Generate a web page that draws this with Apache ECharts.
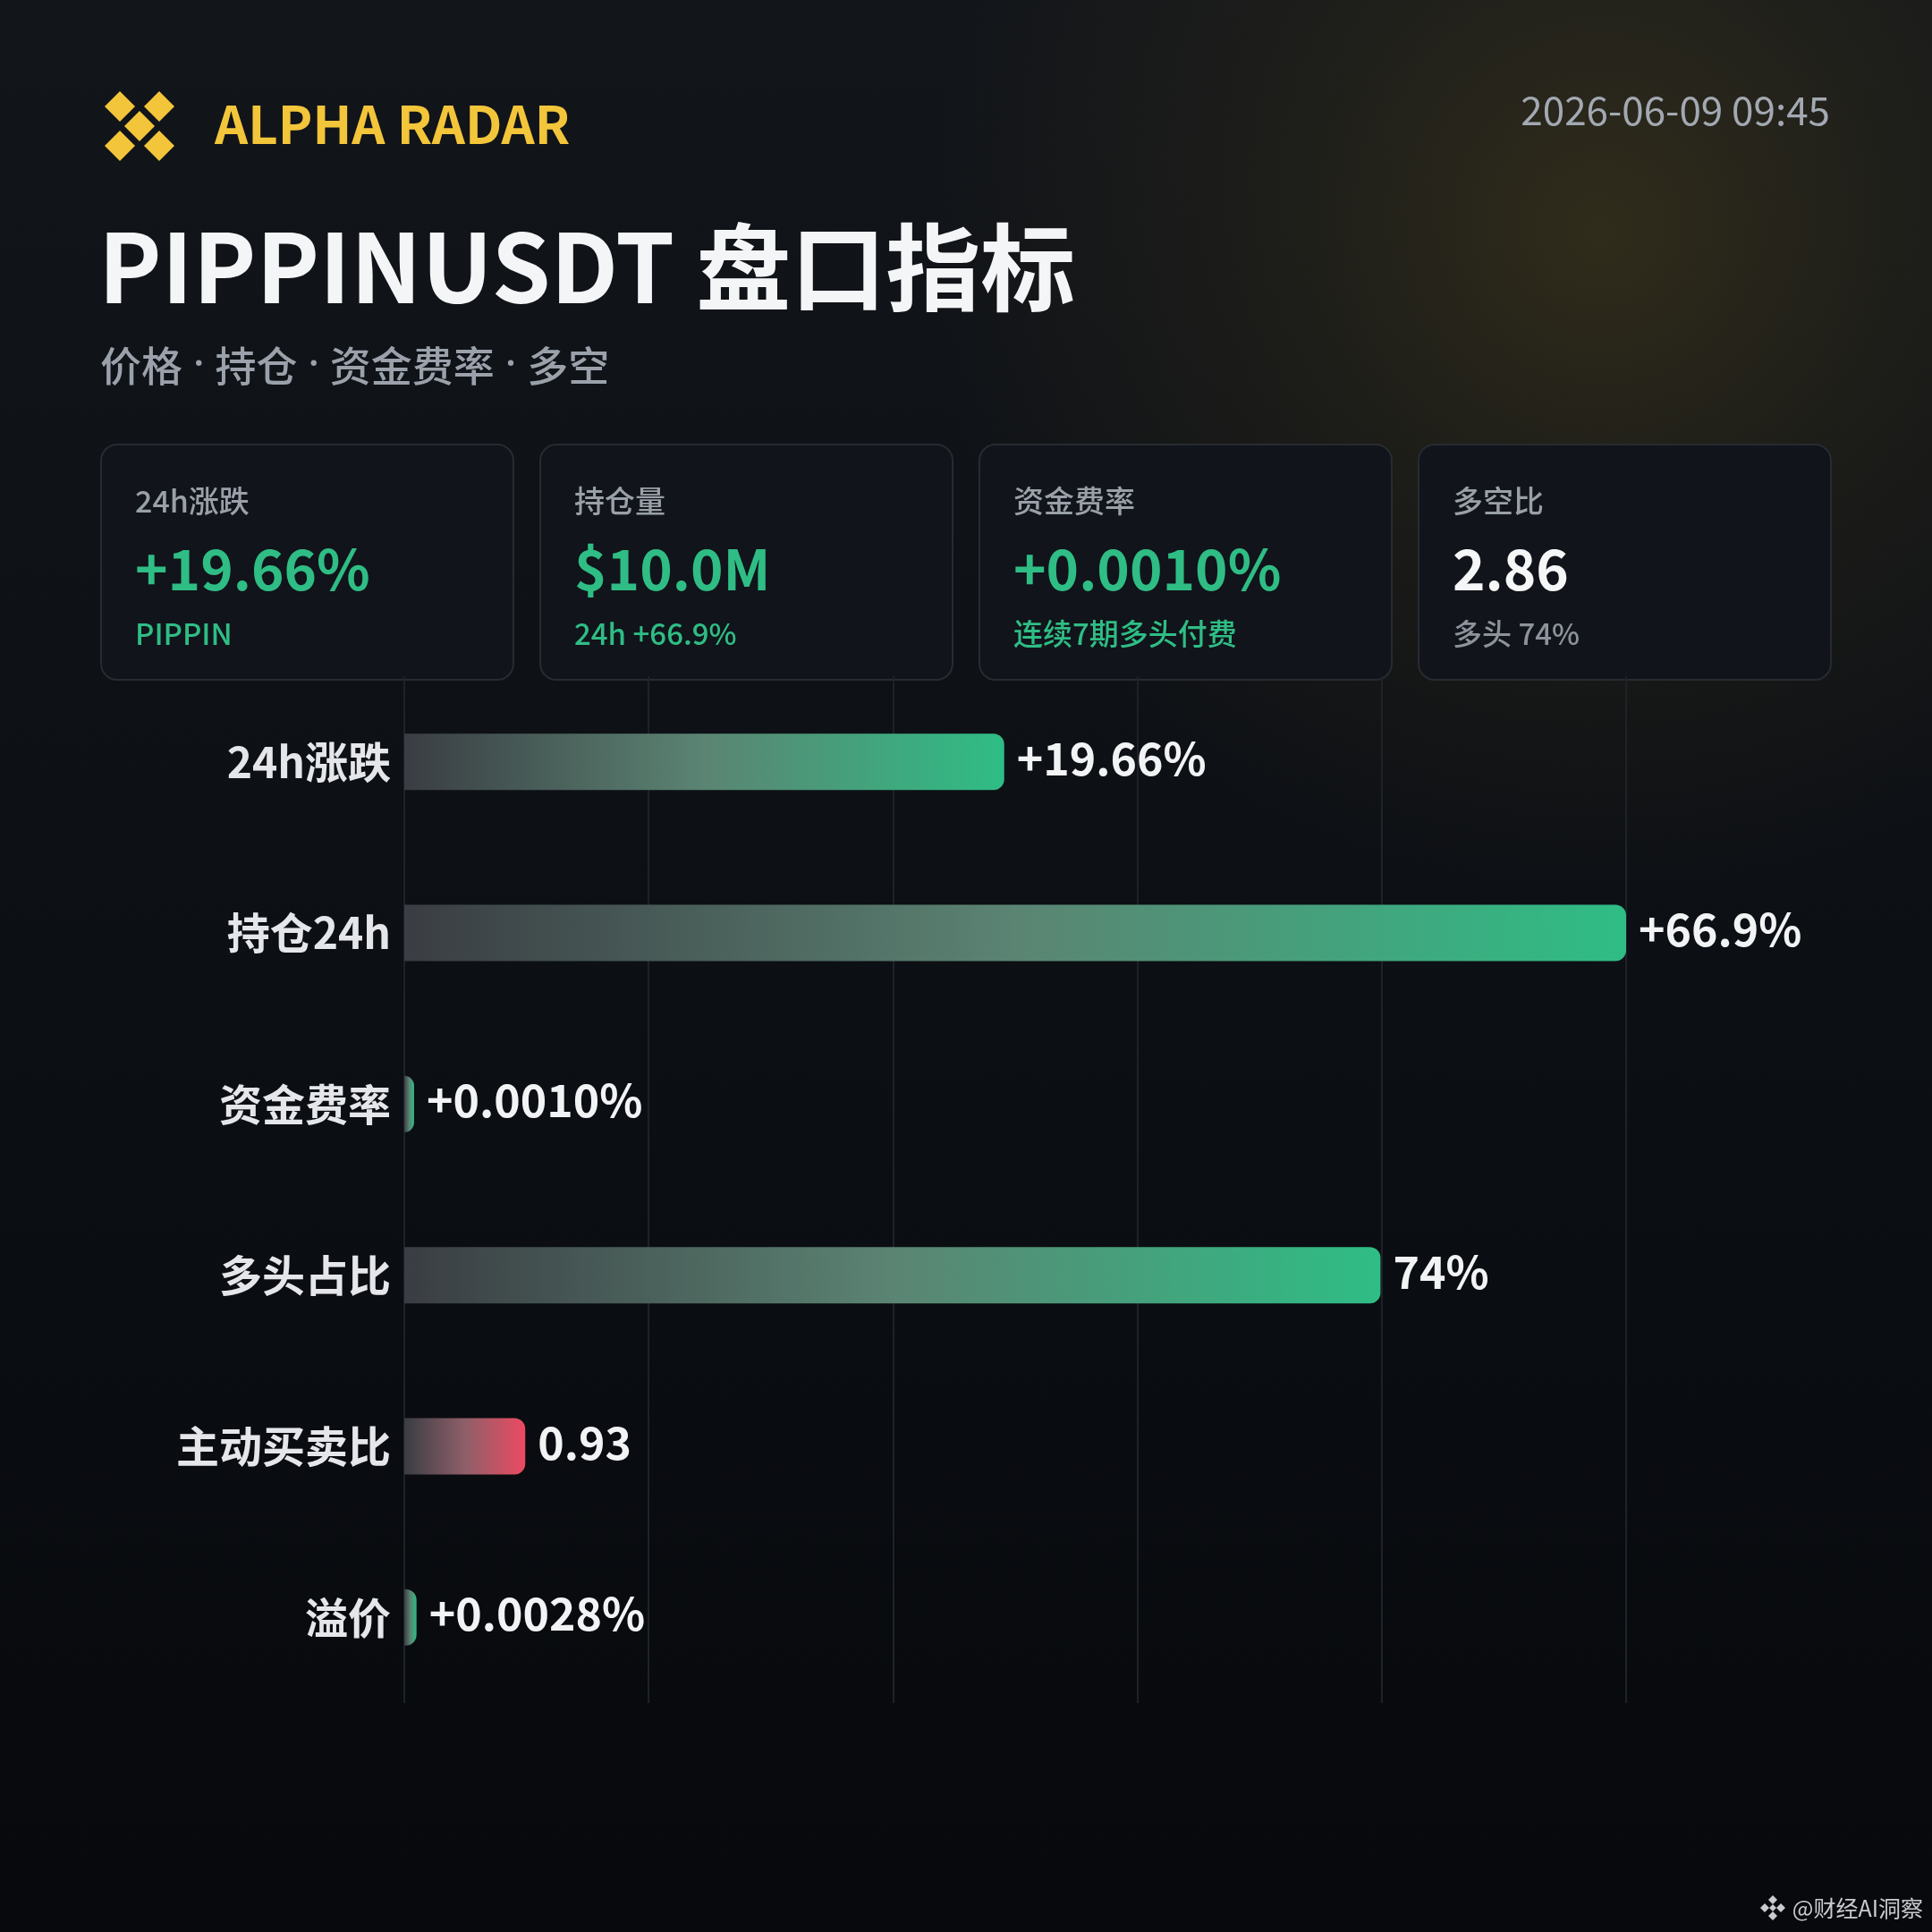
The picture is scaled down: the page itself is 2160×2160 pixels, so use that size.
<!DOCTYPE html>
<html>
<head>
<meta charset="utf-8">
<title>PIPPINUSDT 盘口指标</title>
<script src="https://cdn.jsdelivr.net/npm/echarts@6/dist/echarts.min.js"></script>
<style>
  html, body { margin: 0; padding: 0; background: #0b0e13; }
  #chart { width: 2160px; height: 2160px; }
</style>
</head>
<body>
<div id="chart"></div>
<script>
// 条形图数据（长度按图上读出的比例，标签为原始数值）
var categories = ['24h涨跌', '持仓24h', '资金费率', '多头占比', '主动买卖比', '溢价']
var barValues = [49.1, 100, 0.8, 79.9, 9.9, 1.0]
var valueLabels = ['+19.66%', '+66.9%', '+0.0010%', '74%', '0.93', '+0.0028%']
var barTones = ['up', 'up', 'up', 'up', 'down', 'up']
var axisTicks = [0, 20, 40, 60, 80, 100]

// 顶部卡片
var cardTitles = ['24h涨跌', '持仓量', '资金费率', '多空比']
var cardValues = ['+19.66%', '$10.0M', '+0.0010%', '2.86']
var cardSubs = ['PIPPIN', '24h +66.9%', '连续7期多头付费', '多头 74%']
var cardTones = ['up', 'up', 'up', 'plain']

var FONT = '"Noto Sans CJK SC", "Noto Sans", sans-serif'
var GREEN = '#2fbd85'
var RED = '#ec4a61'
var YELLOW = '#f3c53a'

var toneStops = {
  up: ['#3a3d43', '#5b8473', GREEN],
  down: ['#3a3d43', '#8e5f69', RED]
}

var chart = echarts.init(document.getElementById('chart'))

var graphics = []

// 背景右上角的暖色光晕
graphics.push({
  type: 'circle',
  z: -10,
  silent: true,
  shape: { cx: 1790, cy: 260, r: 760 },
  style: {
    fill: {
      type: 'radial', x: 0.5, y: 0.5, r: 0.5,
      colorStops: [
        { offset: 0, color: 'rgba(205,165,40,0.17)' },
        { offset: 0.45, color: 'rgba(205,165,40,0.07)' },
        { offset: 1, color: 'rgba(205,165,40,0)' }
      ]
    }
  }
})

// logo：五个菱形
var diamond = function(cx, cy, h, color) {
  return {
    type: 'polygon',
    shape: { points: [[cx, cy - h], [cx + h, cy], [cx, cy + h], [cx - h, cy]] },
    style: { fill: color }
  }
}
;[[134, 119], [178, 119], [156, 141], [134, 163], [178, 163]].forEach(function(p) {
  graphics.push(diamond(p[0], p[1], 17, YELLOW))
})

graphics.push({
  type: 'text', left: 240, top: 110,
  style: { text: 'ALPHA RADAR', fill: YELLOW, font: '600 58px ' + FONT }
})
graphics.push({
  type: 'text', right: 114, top: 101,
  style: { text: '2026-06-09 09:45', fill: '#a3a9b2', font: '400 44px ' + FONT }
})
graphics.push({
  type: 'text', left: 110, top: 246,
  style: { text: 'PIPPINUSDT 盘口指标', fill: '#f4f5f7', font: '700 106px ' + FONT }
})
graphics.push({
  type: 'text', left: 112, top: 386,
  style: {
    text: '价格{d| · }持仓{d| · }资金费率{d| · }多空',
    fill: '#9ba1aa',
    font: '500 46px ' + FONT,
    rich: {
      d: { fill: '#9ba1aa', fontSize: 46, fontFamily: '"Noto Sans", sans-serif', fontWeight: 500 }
    }
  }
})

// 卡片
for (var i = 0; i < cardTitles.length; i++) {
  var x = 113 + i * 491
  var tone = cardTones[i]
  graphics.push({
    type: 'rect',
    shape: { x: x, y: 497, width: 461, height: 263, r: 18 },
    style: { fill: '#11141a', stroke: '#272b32', lineWidth: 2 }
  })
  graphics.push({
    type: 'text', x: x + 38, y: 560,
    style: { text: cardTitles[i], fill: '#9aa0a8', font: '500 34px ' + FONT, verticalAlign: 'middle' }
  })
  graphics.push({
    type: 'text', x: x + 38, y: 636,
    style: {
      text: cardValues[i],
      fill: tone === 'up' ? GREEN : '#f5f6f7',
      font: '600 62px ' + FONT,
      verticalAlign: 'middle'
    }
  })
  graphics.push({
    type: 'text', x: x + 38, y: 708,
    style: {
      text: cardSubs[i],
      fill: tone === 'up' ? GREEN : '#8d939b',
      font: '500 33px ' + FONT,
      verticalAlign: 'middle'
    }
  })
}

// 右下角水印
;[[1982, 2124], [1982, 2142], [1973, 2133], [1991, 2133], [1982, 2133]].forEach(function(p, k) {
  graphics.push(diamond(p[0], p[1], k === 4 ? 4 : 5, '#c9cbce'))
})
graphics.push({
  type: 'text', right: 10, y: 2133,
  style: { text: '@财经AI洞察', fill: '#c9cbce', font: '400 25px ' + FONT, verticalAlign: 'middle' }
})

var barData = barValues.map(function(v, idx) {
  var stops = toneStops[barTones[idx]]
  return {
    value: v,
    itemStyle: {
      color: new echarts.graphic.LinearGradient(0, 0, 1, 0, [
        { offset: 0, color: stops[0] },
        { offset: 0.5, color: stops[1] },
        { offset: 1, color: stops[2] }
      ])
    }
  }
})

chart.setOption({
  backgroundColor: new echarts.graphic.LinearGradient(0, 0, 0, 1, [
    { offset: 0, color: '#12151a' },
    { offset: 0.6, color: '#0b0e13' },
    { offset: 1, color: '#07090c' }
  ]),
  textStyle: { fontFamily: FONT },
  graphic: { elements: graphics },
  grid: {
    left: 452,
    right: 342,
    top: 756,
    bottom: 256,
  },
  xAxis: {
    type: 'value',
    min: axisTicks[0],
    max: axisTicks[axisTicks.length - 1],
    interval: axisTicks[1] - axisTicks[0],
    axisLine: { show: false },
    axisTick: { show: false },
    axisLabel: { show: false },
    splitLine: {
      show: true,
      lineStyle: { color: '#1e2229', width: 2 },
    },
  },
  yAxis: {
    type: 'category',
    inverse: true,
    data: categories,
    axisLine: { show: false },
    axisTick: { show: false },
    axisLabel: {
      margin: 15,
      color: '#e4e6ea',
      fontSize: 48,
      fontWeight: 700,
      fontFamily: FONT,
    },
  },
  series: [
    {
      type: 'bar',
      barWidth: 63,
      data: barData,
      itemStyle: {
        borderRadius: [0, 12, 12, 0],
      },
      label: {
        show: true,
        position: 'right',
        distance: 14,
        offset: [0, -4],
        color: '#f2f3f5',
        fontSize: 50,
        fontWeight: 600,
        fontFamily: FONT,
        formatter: function(p) {
          return valueLabels[p.dataIndex]
        },
      },
      emphasis: { disabled: true },
      animation: false,
    },
  ],
  animation: false,
})
</script>
</body>
</html>
